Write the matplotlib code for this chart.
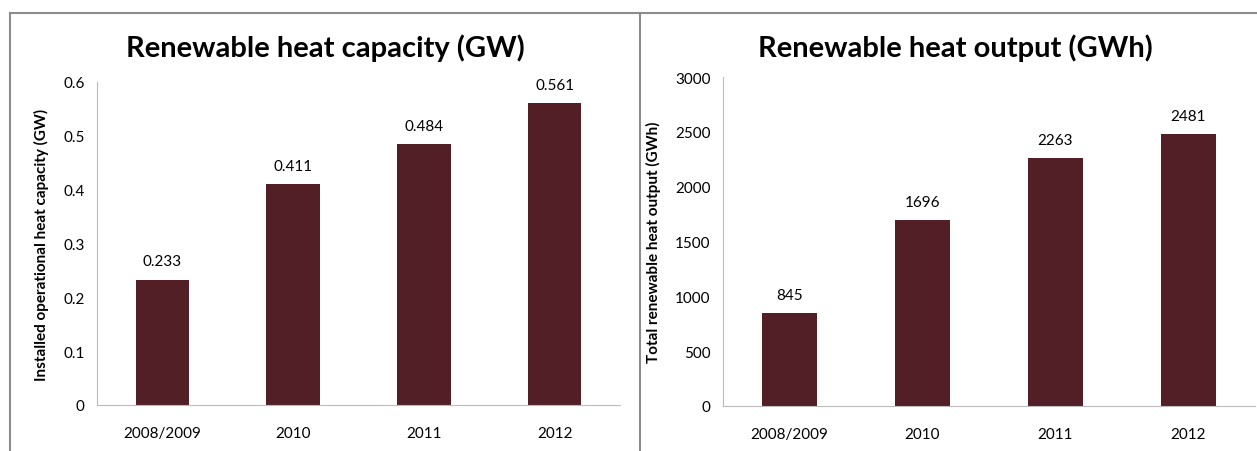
import matplotlib.pyplot as plt
from matplotlib.lines import Line2D

years = ['2008/2009', '2010', '2011', '2012']
capacity = [0.233, 0.411, 0.484, 0.561]
output = [845, 1696, 2263, 2481]
bar_color = '#521F27'

plt.rcParams['font.family'] = ['Lato', 'DejaVu Sans']

W, H = 1257, 452
fig = plt.figure(figsize=(W / 100, H / 100), dpi=100)


def px_axes(x0, y0, x1, y1):
    # pixel box (top-left origin) -> figure axes
    return fig.add_axes([x0 / W, 1 - y1 / H, (x1 - x0) / W, (y1 - y0) / H])


def draw_panel(ax, vals, ymax, step, fmt, title, ylabel, title_x):
    xs = range(len(vals))
    ax.bar(xs, vals, width=0.41, color=bar_color)
    ax.set_xlim(-0.5, len(vals) - 0.5)
    ax.set_ylim(0, ymax)
    ticks = [i * step for i in range(int(round(ymax / step)) + 1)]
    ax.set_yticks(ticks)
    ax.set_yticklabels([fmt(t) for t in ticks], fontsize=11)
    ax.set_xticks(list(xs))
    ax.set_xticklabels(years, fontsize=11)
    ax.tick_params(axis='y', length=0, pad=9)
    ax.tick_params(axis='x', length=0, pad=15)
    for s in ['top', 'right']:
        ax.spines[s].set_visible(False)
    for s in ['left', 'bottom']:
        ax.spines[s].set_color('#BBBBBB')
    for x, v in zip(xs, vals):
        ax.annotate(str(v), (x, v), xytext=(0, 8), textcoords='offset points',
                    ha='center', va='bottom', fontsize=11)
    ax.set_ylabel(ylabel, fontsize=11, fontweight='bold', labelpad=10)
    fig.text(title_x / W, 1 - 48 / H, title, fontsize=21, fontweight='bold',
             ha='center', va='center')


ax1 = px_axes(97, 83, 620, 406)
draw_panel(ax1, capacity, 0.6, 0.1, lambda t: '0' if t == 0 else f'{t:.1f}',
           'Renewable heat capacity (GW)',
           'Installed operational heat capacity (GW)', 325)

ax2 = px_axes(723, 78, 1255, 407)
draw_panel(ax2, output, 3000, 500, lambda t: f'{int(t)}',
           'Renewable heat output (GWh)',
           'Total renewable heat output (GWh)', 955)

# chart frames
gray = '#8C8C8C'
for xs_, ys_ in [([10, 10], [14, H]), ([10, 640], [14, 14]),
                 ([640, 640], [14, H]), ([640, W], [14, 14])]:
    fig.add_artist(Line2D([x / W for x in xs_], [1 - y / H for y in ys_],
                          color=gray, lw=1.5))

fig.savefig('out.png', dpi=100)
